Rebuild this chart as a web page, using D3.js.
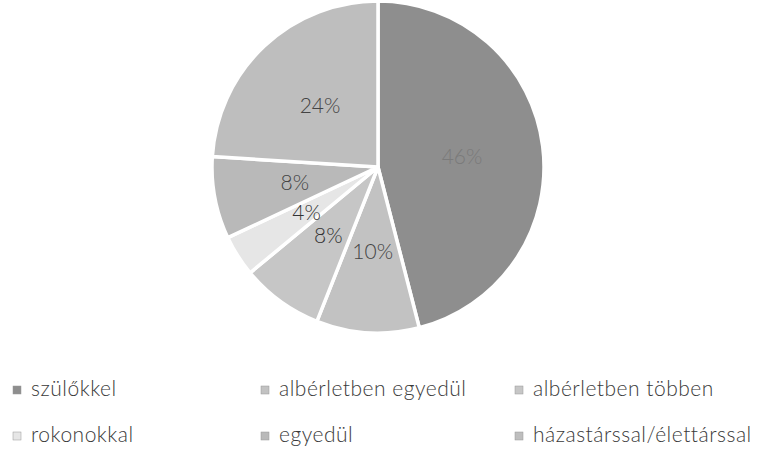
<!DOCTYPE html>
<html>
<head>
<meta charset="utf-8">
<script src="https://cdn.jsdelivr.net/npm/d3@7"></script>
<style>
  body { margin: 0; background: #fff; }
  svg { display: block; }
</style>
</head>
<body>
<div id="chart"></div>
<script>
// categories and values, clockwise from 12 o'clock
const categories = ["szülőkkel", "albérletben egyedül", "albérletben többen", "rokonokkal", "egyedül", "házastárssal/élettárssal"];
const values = [46, 10, 8, 4, 8, 24];
const colors = ["#8e8e8e", "#c2c2c2", "#c6c6c6", "#e6e6e6", "#b9b9b9", "#bebebe"];
const labelColors = ["#7a7a7a", "#444", "#333", "#333", "#444", "#444"];

const width = 764, height = 449;
const cx = 378, cy = 167, r = 166;

const svg = d3.select("#chart")
  .append("svg")
  .attr("width", width)
  .attr("height", height);

const pie = d3.pie().sort(null).value(d => d)(values);

const arc = d3.arc().innerRadius(0).outerRadius(r);
const labelArc = d3.arc().innerRadius(r * 0.51).outerRadius(r * 0.51);

const g = svg.append("g")
  .attr("transform", `translate(${cx},${cy})`);

g.selectAll("path")
  .data(pie)
  .join("path")
  .attr("d", arc)
  .attr("fill", (d, i) => colors[i])
  .attr("stroke", "#fff")
  .attr("stroke-width", 3.5)
  .attr("stroke-linejoin", "round");

g.selectAll("text")
  .data(pie)
  .join("text")
  .attr("transform", d => `translate(${labelArc.centroid(d)})`)
  .attr("text-anchor", "middle")
  .attr("dy", "0.35em")
  .attr("font-family", "Lato, 'Open Sans', sans-serif")
  .attr("font-weight", 300)
  .attr("font-size", 21)
  .attr("fill", (d, i) => labelColors[i])
  .text(d => d.data + "%");

// legend: 3 columns, 2 rows
const colX = [13, 261, 515];
const rowY = [389, 435];

const legend = svg.append("g");
const items = legend.selectAll("g")
  .data(categories)
  .join("g")
  .attr("transform", (d, i) => `translate(${colX[i % 3]},${rowY[Math.floor(i / 3)]})`);

items.append("rect")
  .attr("x", 0)
  .attr("y", -3)
  .attr("width", 8)
  .attr("height", 8)
  .attr("fill", (d, i) => colors[i])
  .attr("stroke", "#999")
  .attr("stroke-width", 0.5);

items.append("text")
  .attr("x", 18)
  .attr("dy", "0.35em")
  .attr("font-family", "Lato, 'Open Sans', sans-serif")
  .attr("font-weight", 300)
  .attr("font-size", 21)
  .attr("letter-spacing", 0.5)
  .attr("fill", "#3a3a3a")
  .text(d => d);
</script>
</body>
</html>
